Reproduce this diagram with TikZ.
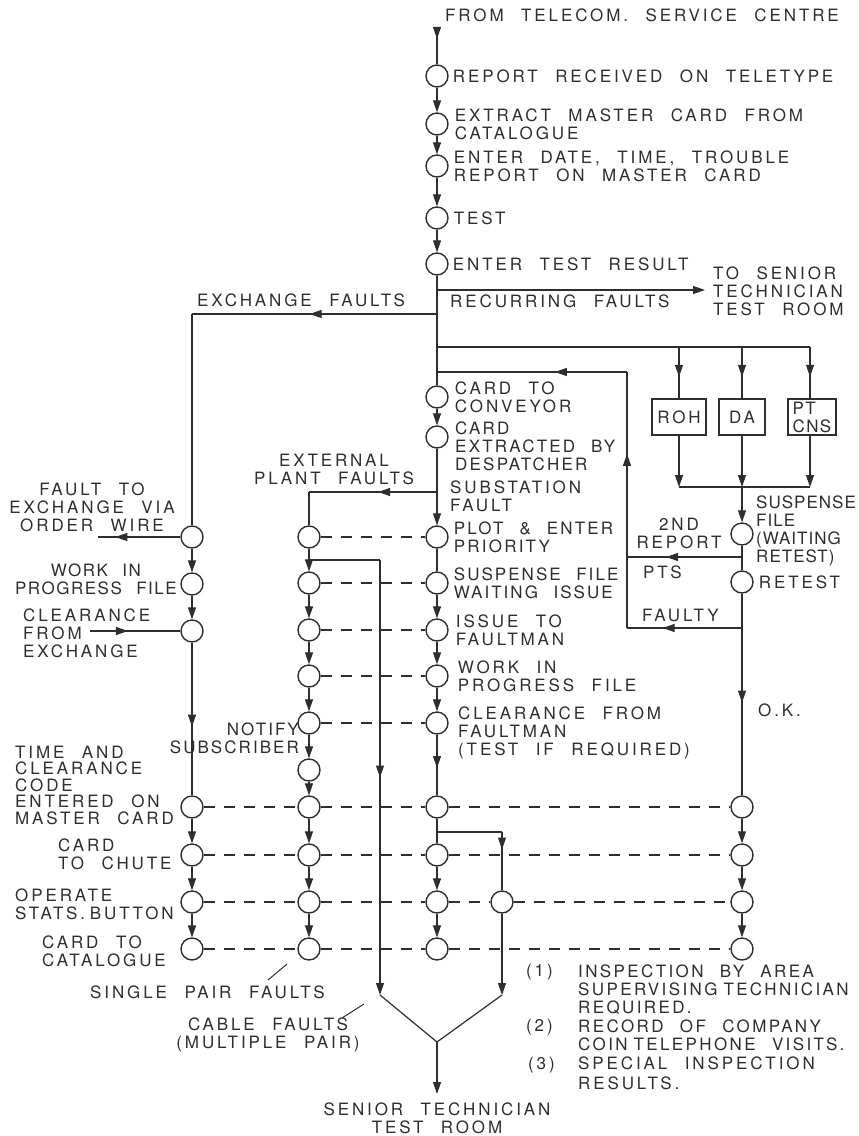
\documentclass[tikz,border=0pt]{standalone}
\usepackage{fontspec}
\setmainfont{TeX Gyre Heros}[LetterSpace=17,WordSpace=2.3]
\usetikzlibrary{arrows.meta, positioning, decorations.markings}
\definecolor{ink}{gray}{0.18}

\tikzset{
  stn/.style={circle, draw=ink, line width=1.4pt, minimum size=22pt, inner sep=0pt},
  desk/.style={rectangle, draw=ink, line width=1.2pt, minimum height=36pt, inner sep=2pt, text=ink},
  lbl/.style={text=ink, inner sep=0pt, align=left},
  tight/.style={font=\fontsize{17}{18}\selectfont\addfontfeature{LetterSpace=#1}},
  flow/.style={draw=ink, line width=1.2pt},
  tip/.style={-{Triangle[length=12pt,width=8pt]}},
  midtip/.style={postaction={decorate}, decoration={markings,
      mark=at position #1 with {\arrow{Triangle[length=12pt,width=8pt]}}}},
  midtip/.default=0.5,
  link/.style={draw=ink, line width=1.2pt, dash pattern=on 11pt off 9pt},
}

\begin{document}
\begin{tikzpicture}[x=1pt, y=-1pt, font=\fontsize{17}{18}\selectfont]
    \useasboundingbox (0,0) rectangle (859,1136);

    % Main column
    \coordinate (src) at (437,28);
    \node[stn] (m1) at (437,76) {};
    \node[stn] (m2) at (437,124) {};
    \node[stn] (m3) at (437,166) {};
    \node[stn] (m4) at (437,218) {};
    \node[stn] (m5) at (437,264) {};
    \node[stn] (m6) at (437,397) {};
    \node[stn] (m7) at (437,437) {};

    \node[lbl, anchor=west] at (445,15) {FROM TELECOM. SERVICE CENTRE};
    \node[lbl, right=4pt of m1] {REPORT RECEIVED ON TELETYPE};
    \node[lbl, right=6pt of m2] {EXTRACT MASTER CARD FROM\\CATALOGUE};
    \node[lbl, right=5pt of m3] {ENTER DATE, TIME, TROUBLE\\REPORT ON MASTER CARD};
    \node[lbl, right=5pt of m4] {TEST};
    \node[lbl, right=4pt of m5] {ENTER TEST RESULT};
    \node[lbl, right=6pt of m6] {CARD TO\\CONVEYOR};
    \node[lbl, tight=13, anchor=west] at (455,446) {CARD\\EXTRACTED BY\\DESPATCHER};

    \draw[flow, midtip=0.3] (src) -- (m1);
    \draw[flow, tip] (m1) -- (m2);
    \draw[flow, tip] (m2) -- (m3);
    \draw[flow, tip] (m3) -- (m4);
    \draw[flow, tip] (m4) -- (m5);
    \draw[flow] (m5) -- (m6);
    \draw[flow, tip] (m6) -- (m7);

    % Branches off the main column
    \coordinate (j1) at (437,290);
    \coordinate (rec) at (705,290);
    \coordinate (j2) at (437,314);
    \coordinate (ex) at (192,314);
    \coordinate (j3) at (437,347);
    \coordinate (j4) at (437,372);
    \coordinate (j5) at (437,492);
    \coordinate (ep) at (309,492);

    \draw[flow, tip] (j1) -- (rec);
    \draw[flow, midtip=0.52] (j2) -- (ex);
    \draw[flow, midtip=0.46] (j5) -- (ep);

    \node[lbl, anchor=west] at (713,291) {TO SENIOR\\TECHNICIAN\\TEST ROOM};
    \node[lbl, anchor=west] at (450,301) {RECURRING FAULTS};
    \node[lbl, anchor=west] at (197,300) {EXCHANGE FAULTS};
    \node[lbl, align=center] at (334,469) {EXTERNAL\\PLANT FAULTS};
    \node[lbl, anchor=west] at (450,496) {SUBSTATION\\FAULT};

    % ROH / DA / PT CNS
    \coordinate (k1) at (679,347);
    \coordinate (k2) at (742,347);
    \coordinate (k3) at (810,347);
    \node[desk, minimum width=54pt] (roh) at (679,417) {ROH};
    \node[desk, minimum width=46pt] (da) at (742,417) {DA};
    \node[desk, minimum width=48pt, align=left, tight=8] (pt) at (812,417) {PT\\CNS};
    \coordinate (g1) at (679,487);
    \coordinate (g2) at (742,487);
    \coordinate (g3) at (810,487);

    \draw[flow] (j3) -- (k3);
    \draw[flow, midtip=0.58] (k1) -- (roh);
    \draw[flow, midtip=0.58] (k2) -- (da);
    \draw[flow, midtip=0.58] (k3) -- (k3 |- pt.north);
    \draw[flow, tip] (roh) -- (g1);
    \draw[flow, tip] (da) -- (g2);
    \draw[flow, tip] (g3 |- pt.south) -- (g3);
    \draw[flow] (g1) -- (g3);

    % Suspense file and retest
    \node[stn] (r1) at (742,534) {};
    \node[stn] (r2) at (742,582) {};
    \foreach \y [count=\i from 7] in {807,855,902,949}
        \node[stn] (r\i) at (742,\y) {};
    \coordinate (s1) at (742,557);
    \coordinate (s2) at (742,628);
    \coordinate (fb0) at (627,372);
    \coordinate (fb1) at (627,557);
    \coordinate (fb2) at (627,628);

    \draw[flow, tip] (g2) -- (r1);
    \draw[flow] (r1) -- (r2);
    \draw[flow, midtip=0.54] (r2) -- (r7);
    \draw[flow, tip] (r7) -- (r8);
    \draw[flow, tip] (r8) -- (r9);
    \draw[flow, tip] (r9) -- (r10);
    \draw[flow, midtip=0.66] (s1) -- (fb1);
    \draw[flow, midtip=0.69] (s2) -- (fb2);
    \draw[flow, midtip=0.68] (fb2) -- (fb0);
    \draw[flow, midtip=0.38] (fb0) -- (j4);

    \node[lbl, tight=6, anchor=west] at (756,531) {SUSPENSE\\FILE\\(WAITING\\RETEST)};
    \node[lbl, right=5pt of r2] {RETEST};
    \node[lbl, align=center] at (679,533) {2ND\\REPORT};
    \node[lbl, anchor=west] at (643,572) {PTS};
    \node[lbl, anchor=west] at (642,615) {FAULTY};
    \node[lbl, anchor=west] at (758,710) {O.K.};

    % Substation faults column
    \node[stn] (c1) at (437,537) {};
    \node[stn] (c2) at (437,583) {};
    \node[stn] (c3) at (437,630) {};
    \node[stn] (c4) at (437,676) {};
    \node[stn] (c5) at (437,723) {};
    \foreach \y [count=\i from 7] in {807,855,902,949}
        \node[stn] (c\i) at (437,\y) {};

    \draw[flow, tip] (m7) -- (c1);
    \draw[flow] (c1) -- (c2);
    \draw[flow, tip] (c2) -- (c3);
    \draw[flow, tip] (c3) -- (c4);
    \draw[flow, tip] (c4) -- (c5);
    \draw[flow, midtip=0.55] (c5) -- (c7);
    \draw[flow] (c7) -- (c8);
    \draw[flow, tip] (c8) -- (c9);
    \draw[flow, tip] (c9) -- (c10);

    \node[lbl, tight=13, right=5pt of c1] {PLOT \& ENTER\\PRIORITY};
    \node[lbl, tight=12, right=5pt of c2] {SUSPENSE FILE\\WAITING ISSUE};
    \node[lbl, right=7pt of c3] {ISSUE TO\\FAULTMAN};
    \node[lbl, right=9pt of c4] {WORK IN\\PROGRESS FILE};
    \node[lbl, anchor=west] at (458,733) {CLEARANCE FROM\\FAULTMAN\\(TEST IF REQUIRED)};

    % Branch (1)
    \coordinate (b0) at (437,832);
    \coordinate (b1) at (502,832);
    \node[stn] (b9) at (502,902) {};
    \coordinate (vr) at (502,995);
    \draw[flow] (b0) -- (b1);
    \draw[flow, midtip=0.3] (b1) -- (b9);
    \draw[flow, tip] (b9) -- (vr);

    % External plant column
    \foreach \y [count=\i] in {537,583,630,676,723,770,807,855,902,949}
        \node[stn] (e\i) at (309,\y) {};
    \draw[flow] (ep) -- (e1);
    \foreach \i [remember=\i as \p (initially 1)] in {2,...,10}
        \draw[flow, tip] (e\p) -- (e\i);
    \node[lbl, tight=12, align=right, anchor=east] at (299,738) {NOTIFY\\SUBSCRIBER};

    % Cable faults line
    \coordinate (cb0) at (309,560);
    \coordinate (cb1) at (380,560);
    \coordinate (vl) at (380,995);
    \draw[flow] (cb0) -- (cb1);
    \draw[flow, tip, midtip=0.5] (cb1) -- (vl);

    % Exchange faults column
    \node[stn] (l1) at (192,537) {};
    \node[stn] (l2) at (192,584) {};
    \node[stn] (l3) at (192,631) {};
    \foreach \y [count=\i from 7] in {807,855,902,949}
        \node[stn] (l\i) at (192,\y) {};
    \coordinate (ow) at (98,537);
    \coordinate (ce) at (90,631);

    \draw[flow] (ex) -- (l1);
    \draw[flow, tip] (l1) -- (l2);
    \draw[flow, tip] (l2) -- (l3);
    \draw[flow, midtip=0.55] (l3) -- (l7);
    \draw[flow, tip] (l7) -- (l8);
    \draw[flow, tip] (l8) -- (l9);
    \draw[flow, tip] (l9) -- (l10);
    \draw[flow, midtip=0.79] (l1) -- (ow);
    \draw[flow, midtip=0.42] (ce) -- (l3);

    \node[lbl, align=center] at (92,507) {FAULT TO\\EXCHANGE VIA\\ORDER WIRE};
    \node[lbl, tight=9, align=center, anchor=east] at (177,579) {WORK IN\\PROGRESS FILE};
    \node[lbl, anchor=west] at (23,633) {CLEARANCE\\FROM\\EXCHANGE};
    \node[lbl, anchor=west, font=\fontsize{17}{16.5}\selectfont] at (15,785)
        {TIME AND\\CLEARANCE\\CODE\\ENTERED ON\\MASTER CARD};
    \node[lbl, anchor=west] at (58,854) {CARD\\TO CHUTE};
    \node[lbl, anchor=west] at (15,904) {OPERATE\\STATS.\kern5pt BUTTON};
    \node[lbl, anchor=west] at (42,951) {CARD TO\\CATALOGUE};

    % Dashed ties between columns
    \foreach \i in {1,...,5}
        \draw[link] (e\i) -- (c\i);
    \foreach \i in {7,8,9,10} {
        \draw[link] (l\i) -- (e\i);
        \draw[link] (e\i) -- (c\i);
    }
    \foreach \i in {7,8,10}
        \draw[link] (c\i) -- (r\i);
    \draw[link] (c9) -- (b9);
    \draw[link] (b9) -- (r9);

    % Merge to senior technician
    \coordinate (vb) at (437,1042);
    \coordinate (out) at (437,1094);
    \draw[flow] (vl) -- (vb) -- (vr);
    \draw[flow, tip] (vb) -- (out);
    \node[lbl, align=center] at (437,1118) {SENIOR TECHNICIAN\\TEST ROOM};

    % Fault type notes
    \coordinate (sp0) at (268,980);
    \coordinate (sp1) at (287,964);
    \coordinate (cf0) at (342,1018);
    \coordinate (cf1) at (364,1004);
    \draw[ink, line width=1pt] (sp0) -- (sp1);
    \draw[ink, line width=1pt] (cf0) -- (cf1);
    \node[lbl, anchor=west] at (90,992) {SINGLE PAIR FAULTS};
    \node[lbl, align=center] at (268,1035) {CABLE FAULTS\\(MULTIPLE PAIR)};

    % Footnotes
    \node[lbl, anchor=west] at (526,972) {(1)};
    \node[lbl, anchor=west] at (526,1027) {(2)};
    \node[lbl, anchor=west] at (528,1065) {(3)};
    \node[lbl, tight=14, anchor=west] at (578,990)
        {INSPECTION BY AREA\\SUPERVISING\kern6pt TECHNICIAN\\REQUIRED.};
    \node[lbl, tight=14, anchor=west] at (578,1035)
        {RECORD OF COMPANY\\COIN\kern6pt TELEPHONE VISITS.};
    \node[lbl, anchor=west, font=\fontsize{17}{20}\selectfont] at (578,1073)
        {SPECIAL INSPECTION\\RESULTS.};
\end{tikzpicture}
\end{document}
